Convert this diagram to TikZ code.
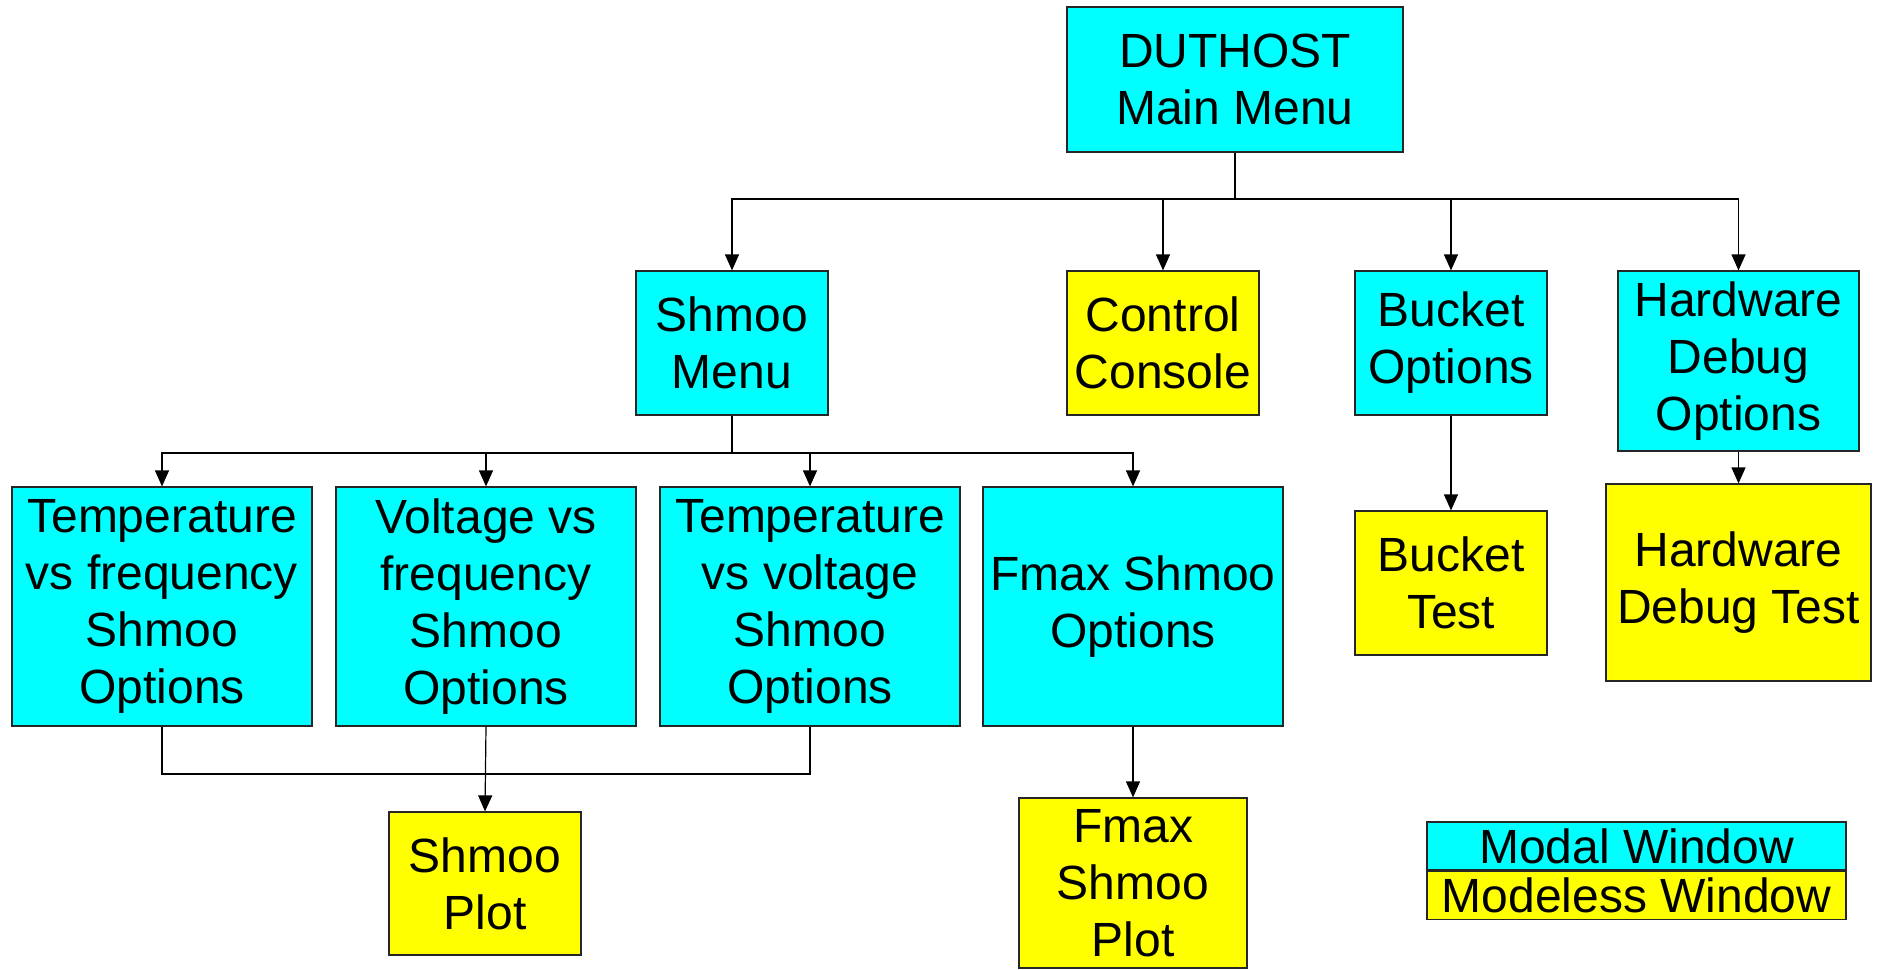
\documentclass[tikz,border=0pt]{standalone}
\usepackage{fontspec}
\setmainfont{Liberation Sans}
\usetikzlibrary{arrows.meta}
\definecolor{modal}{HTML}{00FFFF}
\definecolor{modeless}{HTML}{FFFF00}
\begin{document}
\begin{tikzpicture}[x=1pt,y=-1pt,
 box/.style={draw=black!85, line width=1.2pt, rectangle, inner sep=0pt, align=center, font=\fontsize{48}{57}\selectfont},
 modalbox/.style={box, fill=modal},
 modelessbox/.style={box, fill=modeless},
 conn/.style={line width=1.2pt, black},
 arr/.style={conn, -{Triangle[length=16pt,width=14pt]}}]
\useasboundingbox (0,0) rectangle (1881,969);
% top level
\node[modalbox, minimum width=336pt, minimum height=145pt] (main) at (1235,79.5) {DUTHOST\\Main Menu};
% second level
\node[modalbox, minimum width=192pt, minimum height=144pt] (shmoo) at (732,343) {Shmoo\\Menu};
\node[modelessbox, minimum width=192pt, minimum height=144pt] (console) at (1163,343) {Control\\Console};
\node[modalbox, minimum width=192pt, minimum height=144pt] (bucket) at (1451,343) {Bucket\\Options};
\node[modalbox, minimum width=241pt, minimum height=180pt] (hwopt) at (1738.5,361) {Hardware\\Debug\\Options};
% third level
\node[modalbox, minimum width=300pt, minimum height=239pt] (tf) at (162,606.5) {Temperature\\vs frequency\\Shmoo\\Options};
\node[modalbox, minimum width=300pt, minimum height=239pt] (vf) at (486,606.5) {Voltage vs\\frequency\\Shmoo\\Options};
\node[modalbox, minimum width=300pt, minimum height=239pt] (tv) at (810,606.5) {Temperature\\vs voltage\\Shmoo\\Options};
\node[modalbox, minimum width=300pt, minimum height=239pt] (fmax) at (1133,606.5) {Fmax Shmoo\\Options};
\node[modelessbox, minimum width=192pt, minimum height=144pt] (btest) at (1451,583) {Bucket\\Test};
\node[modelessbox, minimum width=265pt, minimum height=197pt] (hwtest) at (1738.5,582.5) {Hardware\\Debug Test};
% fourth level
\node[modelessbox, minimum width=192pt, minimum height=143pt] (splot) at (485,883.5) {Shmoo\\Plot};
\node[modelessbox, minimum width=228pt, minimum height=170pt] (fplot) at (1133,883) {Fmax\\Shmoo\\Plot};
% legend
\node[modalbox, minimum width=419pt, minimum height=48pt, font=\fontsize{48}{50}\selectfont] (legmodal) at (1636.5,846) {Modal Window};
\node[modelessbox, minimum width=419pt, minimum height=48pt, font=\fontsize{48}{50}\selectfont, anchor=north] (legmodeless) at (legmodal.south) {Modeless Window};
% connectors
\coordinate (j1) at (1235,199);
\draw[conn] (main.south) -- (j1);
\draw[arr] (j1) -| (shmoo.north);
\draw[arr] (j1) -| (console.north);
\draw[arr] (j1) -| (bucket.north);
\draw[arr] (j1) -| (hwopt.north);
\coordinate (j2) at (732,453);
\draw[conn] (shmoo.south) -- (j2);
\draw[arr] (j2) -| (tf.north);
\draw[arr] (j2) -| (vf.north);
\draw[arr] (j2) -| (tv.north);
\draw[arr] (j2) -| (fmax.north);
\draw[arr] (bucket.south) -- (btest.north);
\draw[arr] (hwopt.south) -- (hwtest.north);
\coordinate (j3) at (486,774);
\draw[conn] (tf.south) |- (j3) -| (tv.south);
\draw[arr] (vf.south) -- (splot.north);
\draw[arr] (fmax.south) -- (fplot.north);
\end{tikzpicture}
\end{document}
